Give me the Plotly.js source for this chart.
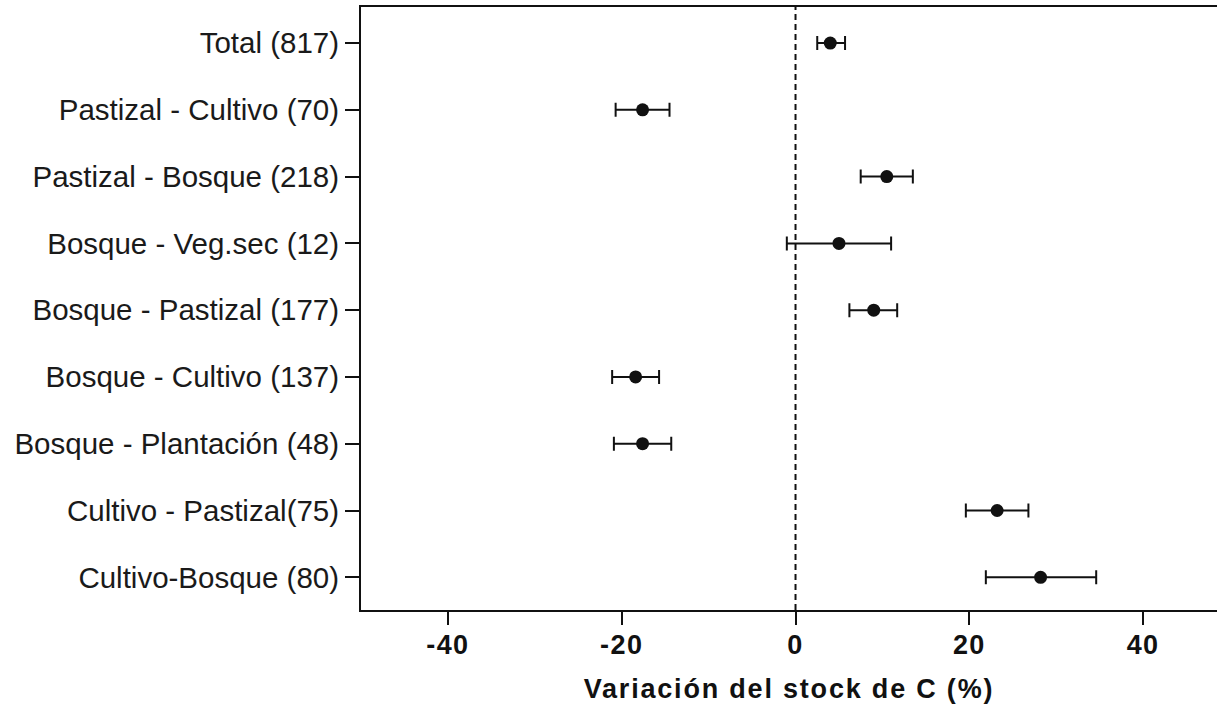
<!DOCTYPE html>
<html>
<head>
<meta charset="utf-8">
<script src="https://cdn.plot.ly/plotly-3.0.1.min.js"></script>
<style>
html,body{margin:0;padding:0;background:#fff;}
#chart{width:1217px;height:707px;}
#chart .g-xtitle text{letter-spacing:1.8px;}
#chart .xtick text{letter-spacing:1.4px;}
</style>
</head>
<body>
<div id="chart"></div>
<script>
const categories = ["Total (817)", "Pastizal - Cultivo (70)", "Pastizal - Bosque (218)", "Bosque - Veg.sec (12)", "Bosque - Pastizal (177)", "Bosque - Cultivo (137)", "Bosque - Plantación (48)", "Cultivo - Pastizal(75)", "Cultivo-Bosque (80)"];
const meanChange = [4.0, -17.6, 10.5, 5.0, 9.0, -18.4, -17.6, 23.2, 28.2];
const lowerCI   = [2.5, -20.7, 7.5, -1.0, 6.2, -21.1, -20.9, 19.6, 21.9];
const upperCI   = [5.7, -14.5, 13.5, 11.0, 11.7, -15.7, -14.3, 26.8, 34.6];
const xTicks = [-40, -20, 0, 20, 40];

const plus = meanChange.map((m, i) => upperCI[i] - m);
const minus = meanChange.map((m, i) => m - lowerCI[i]);

const trace = {
  type: 'scatter', mode: 'markers',
  x: meanChange, y: categories,
  marker: {color: '#111', size: 13, symbol: 'circle'},
  error_x: {type: 'data', symmetric: false, array: plus, arrayminus: minus,
            color: '#111', thickness: 2, width: 7},
  hoverinfo: 'x+y', showlegend: false
};

const layout = {
  width: 1217, height: 707,
  margin: {l: 361, r: 0, t: 7, b: 97},
  paper_bgcolor: '#fff', plot_bgcolor: '#fff',
  font: {family: 'Liberation Sans, Arial, sans-serif', color: '#1a1a1a'},
  xaxis: {
    range: [-50, 48.5], tickvals: xTicks, ticktext: xTicks.map(String),
    showgrid: false, zeroline: false,
    showline: true, linecolor: '#111', linewidth: 2, mirror: true,
    ticks: 'outside', ticklen: 13, tickwidth: 2, tickcolor: '#111',
    ticklabelstandoff: -3,
    tickfont: {family: 'Liberation Sans, Arial, sans-serif', size: 27, color: '#111', weight: 'bold'},
    title: {text: 'Variación del stock de C (%)', standoff: 20,
            font: {family: 'Liberation Sans, Arial, sans-serif', size: 27, color: '#111', weight: 'bold'}}
  },
  yaxis: {
    type: 'category', categoryorder: 'array', categoryarray: categories,
    range: [8.49, -0.54],
    showgrid: false, zeroline: false,
    showline: true, linecolor: '#111', linewidth: 2, mirror: false,
    ticks: 'outside', ticklen: 14, tickwidth: 2, tickcolor: '#111',
    tickfont: {family: 'Liberation Sans, Arial, sans-serif', size: 29.5, color: '#1a1a1a'}
  },
  shapes: [{
    type: 'line', xref: 'x', yref: 'paper', x0: 0, x1: 0, y0: 0, y1: 1,
    line: {color: '#111', width: 2, dash: '6px,4px'}
  }]
};

Plotly.newPlot('chart', [trace], layout, {displayModeBar: false, staticPlot: true});
</script>
</body>
</html>
